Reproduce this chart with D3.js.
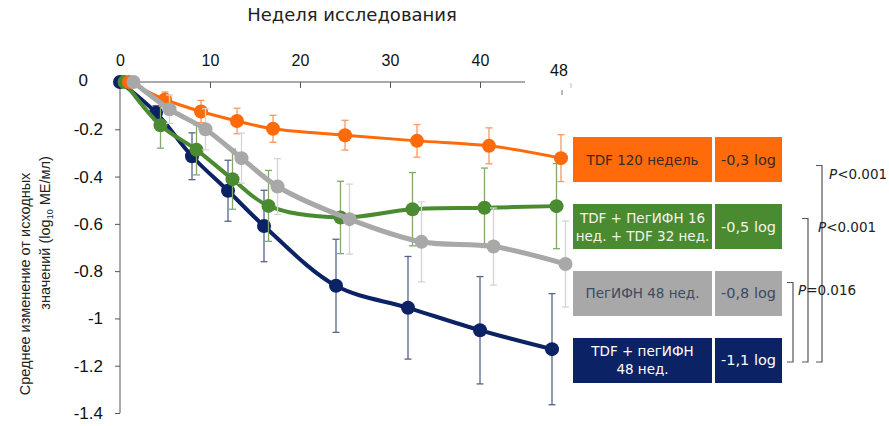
<!DOCTYPE html>
<meta charset="utf-8">
<style>
    body { margin: 0; background: #fff; }
    svg { display: block; }
    .axis line, .axis path { stroke: #555; }
    .gothic { font-family: "DejaVu Sans", sans-serif; }
</style>
<svg width="889" height="426"></svg>
<script src="https://cdn.jsdelivr.net/npm/d3@7"></script>
<script>

    var svg = d3.select("svg");

    // weeks of study
    var weeks = [0, 4, 8, 12, 16, 24, 32, 40, 48];
    var xTicks = [0, 10, 20, 30, 40];
    var yTicks = [0, -0.2, -0.4, -0.6, -0.8, -1, -1.2, -1.4];

    // mean change from baseline and error (log10 IU/ml)
    var navyMean = [0, -0.13, -0.314, -0.46, -0.609, -0.862, -0.955, -1.05, -1.13];
    var navyErr = [0, 0.03, 0.099, 0.129, 0.151, 0.197, 0.217, 0.227, 0.235];
    var greenMean = [0, -0.183, -0.287, -0.411, -0.524, -0.573, -0.538, -0.532, -0.525];
    var greenErr = [0, 0.097, 0.106, 0.127, 0.15, 0.153, 0.155, 0.168, 0.18];
    var orangeMean = [0, -0.074, -0.125, -0.165, -0.198, -0.225, -0.249, -0.27, -0.322];
    var orangeErr = [0, 0.032, 0.047, 0.054, 0.057, 0.063, 0.069, 0.076, 0.099];
    var greyMean = [0, -0.115, -0.2, -0.322, -0.442, -0.58, -0.676, -0.696, -0.77];
    var greyErr = [0, 0.06, 0.087, 0.106, 0.118, 0.148, 0.169, 0.163, 0.182];

    // legend rows, top to bottom
    var legendNames = [["TDF 120 недель"], ["TDF + ПегИФН 16", "нед. + TDF 32 нед."], ["ПегИФН 48 нед."], ["TDF + пегИФН", "48 нед."]];
    var legendValues = ["-0,3 log", "-0,5 log", "-0,8 log", "-1,1 log"];
    var brackets = [
        { from: 0, to: 3, label: "<0.001" },
        { from: 1, to: 3, label: "<0.001" },
        { from: 2, to: 3, label: "=0.016" }
    ];

    var colors = { navy: "#0b2265", green: "#4a8a30", orange: "#ff6a0a", grey: "#a8a8a8" };
    var errColors = { navy: "#56638c", green: "#82a86e", orange: "#f49a62", grey: "#d4d4d4" };

    // drawing order; each series is nudged half a week to the right of the previous
    var series = [
        { key: "navy", mean: navyMean, err: navyErr, width: 4 },
        { key: "green", mean: greenMean, err: greenErr, width: 4 },
        { key: "orange", mean: orangeMean, err: orangeErr, width: 3 },
        { key: "grey", mean: greyMean, err: greyErr, width: 5 }
    ];
    var legendKeys = ["orange", "green", "grey", "navy"];
    var legendText = { orange: "#3a2c22", green: "#f4f4ea", grey: "#3c4a62", navy: "#ffffff" };

    var x = d3.scaleLinear().domain([0, 48]).range([120, 552]);
    var y = d3.scaleLinear().domain([0, -1.4]).range([82, 413]);

    var axisFont = "Liberation Sans, Arial, sans-serif";

    // top axis (week)
    var xAxis = svg.append("g")
        .attr("class", "axis")
        .attr("transform", "translate(0," + y(0) + ")")
        .call(d3.axisTop(x).tickValues(xTicks).tickSize(-6).tickPadding(16).tickFormat(d3.format("d")));
    xAxis.select(".domain").remove();
    xAxis.selectAll(".tick line").filter(function (d) { return d === 0; }).remove();
    xAxis.selectAll("text").style("font-family", axisFont).style("font-size", "16px").attr("fill", "#111");
    svg.append("line")
        .attr("x1", x(0)).attr("x2", x(45))
        .attr("y1", y(0)).attr("y2", y(0))
        .attr("stroke", "#555");

    // broken end of axis with the "48" label
    svg.append("text")
        .attr("x", x(48) + 7).attr("y", y(0) - 6)
        .attr("text-anchor", "middle")
        .style("font-family", axisFont)
        .style("font-size", "16px")
        .attr("fill", "#111")
        .text("48");
    svg.append("line")
        .attr("x1", x(48) + 10).attr("x2", x(48) + 10)
        .attr("y1", y(0) + 8).attr("y2", y(0) + 13)
        .attr("stroke", "#777");
    svg.append("line")
        .attr("x1", x(48) + 19).attr("x2", x(48) + 19)
        .attr("y1", y(0) + 1).attr("y2", y(0) + 6)
        .attr("stroke", "#bbb");

    svg.append("text")
        .attr("class", "gothic")
        .attr("x", 352).attr("y", 21)
        .attr("text-anchor", "middle")
        .style("font-size", "18px")
        .attr("fill", "#222")
        .text("Неделя исследования");

    // left axis
    var yAxis = svg.append("g")
        .attr("class", "axis")
        .attr("transform", "translate(" + x(0) + ",0)")
        .call(d3.axisLeft(y).tickValues(yTicks).tickSize(5).tickPadding(12).tickFormat(function (d) { return String(d); }));
    yAxis.select(".domain").attr("d", "M0," + y(0) + "V" + y(-1.4));
    yAxis.selectAll("text").style("font-family", axisFont).style("font-size", "17px").attr("fill", "#111");
    yAxis.selectAll(".tick").filter(function (d) { return d === 0; })
        .select("text").attr("x", -32).attr("dy", "0.2em");

    var yl = svg.append("g").style("font-family", axisFont)
        .style("font-size", "14.5px").attr("fill", "#222");
    yl.append("text")
        .attr("transform", "translate(30,284) rotate(-90)")
        .attr("text-anchor", "middle")
        .text("Среднее изменение от исходных");
    var l2 = yl.append("text")
        .attr("transform", "translate(50,233) rotate(-90)")
        .attr("text-anchor", "middle");
    l2.append("tspan").text("значений (log");
    l2.append("tspan").attr("dy", 3).style("font-size", "9px").text("10");
    l2.append("tspan").attr("dy", -3).text(" МЕ/мл)");

    // series
    var line = d3.line()
        .curve(d3.curveCatmullRom.alpha(0.5));

    series.forEach(function (s, i) {
        var pts = weeks.map(function (w, j) {
            return { x: x(w + i * 0.5), y: y(s.mean[j]), lo: y(s.mean[j] - s.err[j]), hi: y(s.mean[j] + s.err[j]) };
        });
        var g = svg.append("g").attr("class", "series " + s.key);

        var eb = g.selectAll(".err")
            .data(pts.filter(function (p, j) { return s.err[j] > 0; }))
            .enter().append("g")
            .attr("stroke", errColors[s.key])
            .attr("stroke-width", 1.3);
        eb.append("line")
            .attr("x1", function (p) { return p.x; }).attr("x2", function (p) { return p.x; })
            .attr("y1", function (p) { return p.hi; }).attr("y2", function (p) { return p.lo; });
        eb.append("line")
            .attr("x1", function (p) { return p.x - 3.5; }).attr("x2", function (p) { return p.x + 3.5; })
            .attr("y1", function (p) { return p.hi; }).attr("y2", function (p) { return p.hi; });
        eb.append("line")
            .attr("x1", function (p) { return p.x - 3.5; }).attr("x2", function (p) { return p.x + 3.5; })
            .attr("y1", function (p) { return p.lo; }).attr("y2", function (p) { return p.lo; });

        g.append("path")
            .attr("d", line(pts.map(function (p) { return [p.x, p.y]; })))
            .attr("fill", "none")
            .attr("stroke", colors[s.key])
            .attr("stroke-width", s.width)
            .attr("stroke-linejoin", "round");

        g.selectAll("circle")
            .data(pts)
            .enter().append("circle")
            .attr("cx", function (p) { return p.x; })
            .attr("cy", function (p) { return p.y; })
            .attr("r", 7)
            .attr("fill", colors[s.key]);
    });

    // legend boxes
    var row = d3.scaleBand().domain(d3.range(legendKeys.length)).range([137, 383]).paddingInner(0.328);
    var lg = svg.append("g").attr("class", "gothic").style("font-size", "13.5px");
    legendKeys.forEach(function (k, i) {
        var top = row(i), h = row.bandwidth(), cy = top + h / 2;
        lg.append("rect").attr("x", 573).attr("y", top).attr("width", 139).attr("height", h).attr("fill", colors[k]);
        lg.append("rect").attr("x", 715).attr("y", top).attr("width", 67).attr("height", h).attr("fill", colors[k]);
        var names = legendNames[i];
        var t = lg.append("text")
            .attr("x", 642.5)
            .attr("y", cy - (names.length - 1) * 9 + 5)
            .attr("text-anchor", "middle")
            .attr("fill", legendText[k]);
        names.forEach(function (n, j) {
            t.append("tspan").attr("x", 642.5).attr("dy", j ? 18 : 0).text(n);
        });
        lg.append("text")
            .attr("x", 748.5).attr("y", cy + 5)
            .attr("text-anchor", "middle")
            .style("font-size", "14.5px")
            .attr("fill", legendText[k])
            .text(legendValues[i]);
    });

    // significance brackets
    var bracketX = [822, 808, 793];
    var bracketTopShift = [6, -8, -11];
    var labelX = [829, 818, 798];
    var bg = svg.append("g");
    brackets.forEach(function (b, i) {
        var y0 = row(b.from) + row.bandwidth() / 2 + bracketTopShift[i];
        var y1 = row(b.to) + row.bandwidth() / 2 + 1.5;
        var bx = bracketX[i];
        bg.append("path")
            .attr("d", "M" + (bx - 6) + "," + y0 + "H" + bx + "V" + y1 + "H" + (bx - 6))
            .attr("fill", "none")
            .attr("stroke", "#555")
            .attr("stroke-width", 1.2);
        var t = bg.append("text")
            .attr("class", "gothic")
            .attr("x", labelX[i]).attr("y", y0 + 13)
            .style("font-size", "13.5px")
            .attr("fill", "#222");
        t.append("tspan").style("font-style", "italic").text("P");
        t.append("tspan").text(b.label);
    });

</script>
